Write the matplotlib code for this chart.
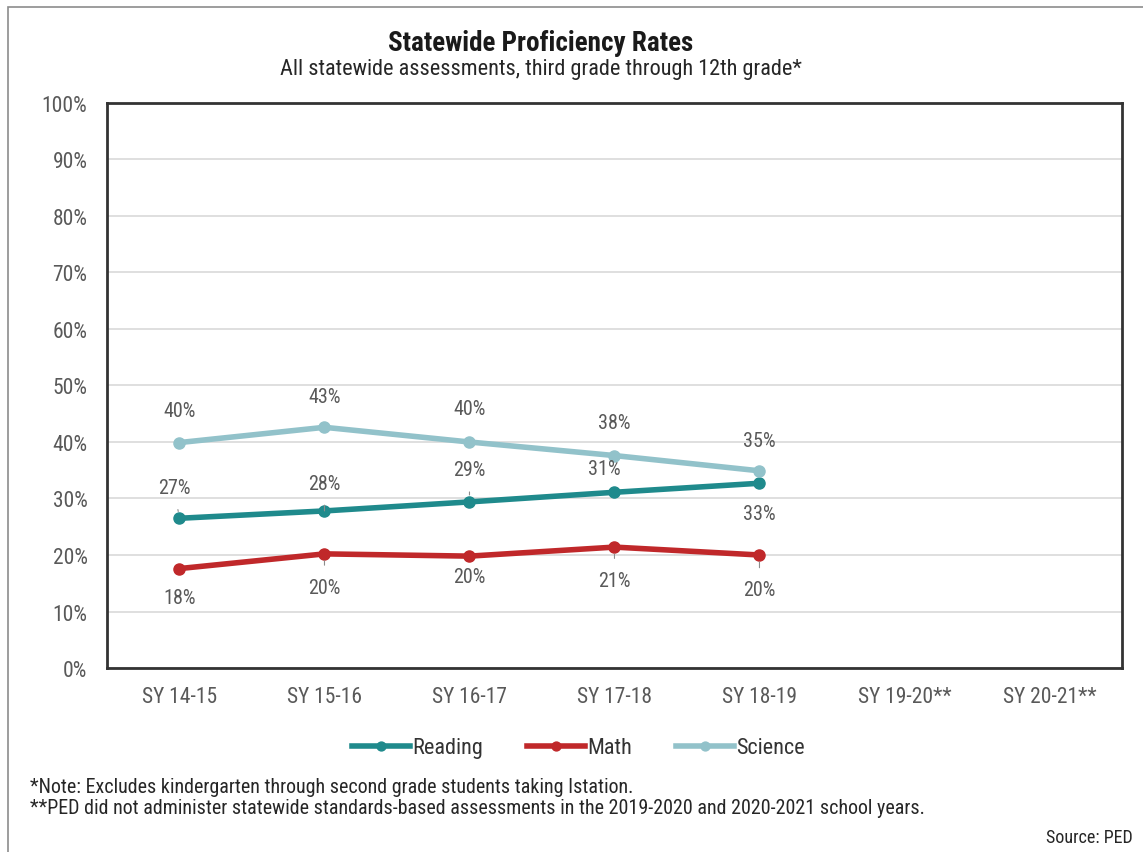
import matplotlib.pyplot as plt
import matplotlib.patches as mpatches

plt.rcParams['font.family'] = ['Roboto Condensed', 'Archivo Narrow', 'Liberation Sans']

years = ['SY 14-15', 'SY 15-16', 'SY 16-17', 'SY 17-18', 'SY 18-19', 'SY 19-20**', 'SY 20-21**']
reading = [26.5, 27.8, 29.4, 31.1, 32.7]
math = [17.6, 20.2, 19.8, 21.4, 20.0]
science = [39.9, 42.6, 40.0, 37.6, 34.9]
reading_lbl = ['27%', '28%', '29%', '31%', '33%']
math_lbl = ['18%', '20%', '20%', '21%', '20%']
science_lbl = ['40%', '43%', '40%', '38%', '35%']

c_read = '#1f8a8c'
c_math = '#c0282a'
c_sci = '#92c2ca'
grey = '#595959'

# label offsets in points (label placement, as in the source chart)
sci_dy = [23, 22, 24, 24, 22]
read_dy = [22, 20, 23, 17, -22]
read_dx = [-4, 0, 0, -7, 0]
math_dy = [-21, -24, -15, -24, -25]
read_lead = [True, True, True, False, False]
math_lead = [False, True, False, True, True]

fig = plt.figure(figsize=(11.43, 8.53), dpi=100)
ax = fig.add_axes([0.0936, 0.2157, 0.888, 0.6624])

# outer frame of the exhibit
fig.patches.append(mpatches.Rectangle((0.007, -0.05), 1.2, 1.041, transform=fig.transFigure,
                                      fill=False, edgecolor='#8c8c8c', linewidth=1.2))

x = list(range(len(reading)))
ax.plot(x, reading, color=c_read, lw=4, marker='o', ms=8, label='Reading', zorder=3)
ax.plot(x, math, color=c_math, lw=4, marker='o', ms=8, label='Math', zorder=3)
ax.plot(x, science, color=c_sci, lw=4, marker='o', ms=8, label='Science', zorder=3)

lead = dict(arrowstyle='-', color='#8c8c8c', lw=0.8, shrinkA=7, shrinkB=5)
for i in x:
    ax.annotate(science_lbl[i], (i, science[i]), xytext=(0, sci_dy[i]), textcoords='offset points',
                ha='center', va='center', fontsize=14.5, color=grey)
    ax.annotate(reading_lbl[i], (i, reading[i]), xytext=(read_dx[i], read_dy[i]),
                textcoords='offset points', ha='center', va='center', fontsize=14.5, color=grey,
                arrowprops=lead if read_lead[i] else None)
    ax.annotate(math_lbl[i], (i, math[i]), xytext=(0, math_dy[i]), textcoords='offset points',
                ha='center', va='center', fontsize=14.5, color=grey,
                arrowprops=lead if math_lead[i] else None)

ax.set_xlim(-0.5, len(years) - 0.5)
ax.set_ylim(0, 100)
ax.set_xticks(range(len(years)))
ax.set_xticklabels(years)
ax.set_yticks(range(0, 101, 10))
ax.set_yticklabels([f'{v}%' for v in range(0, 101, 10)])
ax.tick_params(length=0, labelsize=15.5, colors=grey, pad=13)
ax.tick_params(axis='y', pad=14)
ax.grid(axis='y', color='#d9d9d9', lw=1.2)
ax.set_axisbelow(True)
for s in ax.spines.values():
    s.set_linewidth(2)
    s.set_color('#333333')

fig.text(0.473, 0.949, 'Statewide Proficiency Rates', ha='center', va='center',
         fontsize=19.5, fontweight='bold', color='#1a1a1a')
fig.text(0.473, 0.919, 'All statewide assessments, third grade through 12th grade*', ha='center',
         va='center', fontsize=16, color='#262626')

fig.legend(loc='center', bbox_to_anchor=(0.506, 0.122), ncol=3, frameon=False, fontsize=16,
           handlelength=2.6, handletextpad=0.1, columnspacing=2.0, markerscale=0.8,
           labelcolor='#333333')

fig.text(0.026, 0.077, '*Note: Excludes kindergarten through second grade students taking Istation.',
         ha='left', va='center', fontsize=14.4, color='#262626')
fig.text(0.026, 0.052, '**PED did not administer statewide standards-based assessments in the '
         '2019-2020 and 2020-2021 school years.', ha='left', va='center', fontsize=14.4, color='#262626')
fig.text(0.991, 0.018, 'Source: PED', ha='right', va='center', fontsize=13, color='#262626')

fig.savefig('out.png', dpi=100)
